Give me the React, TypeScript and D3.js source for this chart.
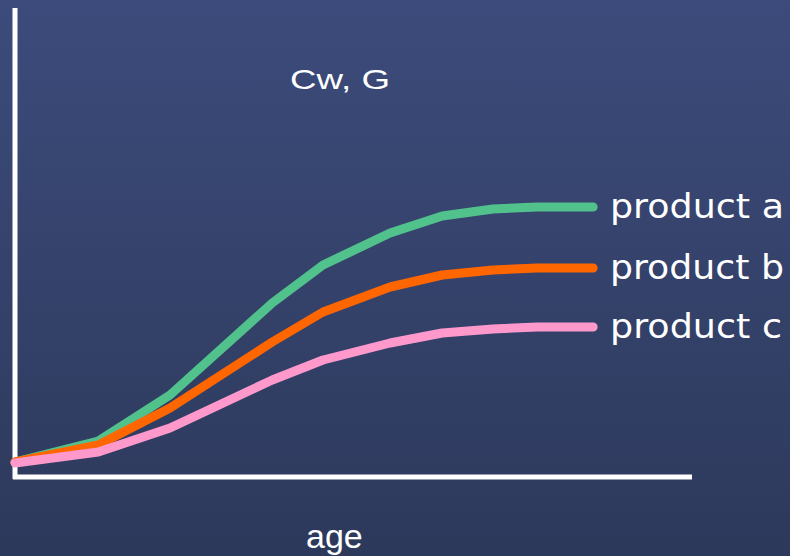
import React from "react";
import * as d3 from "d3";

const ages = [0, 12.3, 22.9, 38, 45.5, 55.4, 63.1, 70.6, 77.1, 85.4];
const productA = [3.75, 9, 20.5, 43.5, 53, 61, 65.25, 67, 67.5, 67.5];
const productB = [3.75, 8, 17.25, 33.75, 41.25, 47.5, 50.5, 51.75, 52.25, 52.25];
const productC = [3.5, 6.25, 12.25, 24.25, 29.25, 33.5, 36, 37, 37.5, 37.5];
const seriesNames = ["product a", "product b", "product c"];
const seriesColors = ["#52c28c", "#ff6600", "#ff99cc"];
const yLabel = "Cw, G";
const xLabel = "age";

export default function App() {
  const W = 790;
  const H = 556;
  const x = d3.scaleLinear().domain([0, 100]).range([15, 692]);
  const y = d3.scaleLinear().domain([0, 100]).range([477, 77]);
  const series = [productA, productB, productC];
  const line = d3
    .line<number>()
    .x((_, i) => x(ages[i]))
    .y((d) => y(d));

  return (
    <svg
      width={W}
      height={H}
      style={{ position: "absolute", left: 0, top: 0, display: "block" }}
    >
      <defs>
        <linearGradient id="bg" x1="0" y1="0" x2="0" y2="1">
          <stop offset="0" stopColor="#3c4b7b" />
          <stop offset="1" stopColor="#2d395b" />
        </linearGradient>
      </defs>
      <rect x={0} y={0} width={W} height={H} fill="url(#bg)" />
      <line x1={x(0)} x2={x(0)} y1={8} y2={y(0) + 2} stroke="#ffffff" strokeWidth={5} />
      <line x1={x(0) - 2} x2={x(100)} y1={y(0)} y2={y(0)} stroke="#ffffff" strokeWidth={5} />
      {series.map((s, i) => (
        <path
          key={i}
          d={line(s) || ""}
          fill="none"
          stroke={seriesColors[i]}
          strokeWidth={9}
          strokeLinecap="round"
          strokeLinejoin="round"
        />
      ))}
      {series.map((s, i) => (
        <text
          key={"l" + i}
          x={610}
          y={y(s[s.length - 1]) + 11}
          fill="#ffffff"
          fontFamily="DejaVu Sans, Verdana, sans-serif"
          fontSize={34}
          textLength={i === 2 ? 172 : 174}
          lengthAdjust="spacingAndGlyphs"
        >
          {seriesNames[i]}
        </text>
      ))}
      <text
        x={290}
        y={89}
        fill="#ffffff"
        fontFamily="Liberation Sans, Arial, sans-serif"
        fontSize={28.5}
        textLength={100}
        lengthAdjust="spacingAndGlyphs"
      >
        {yLabel}
      </text>
      <text
        x={306}
        y={548}
        fill="#ffffff"
        fontFamily="Liberation Sans, Arial, sans-serif"
        fontSize={34}
      >
        {xLabel}
      </text>
    </svg>
  );
}
